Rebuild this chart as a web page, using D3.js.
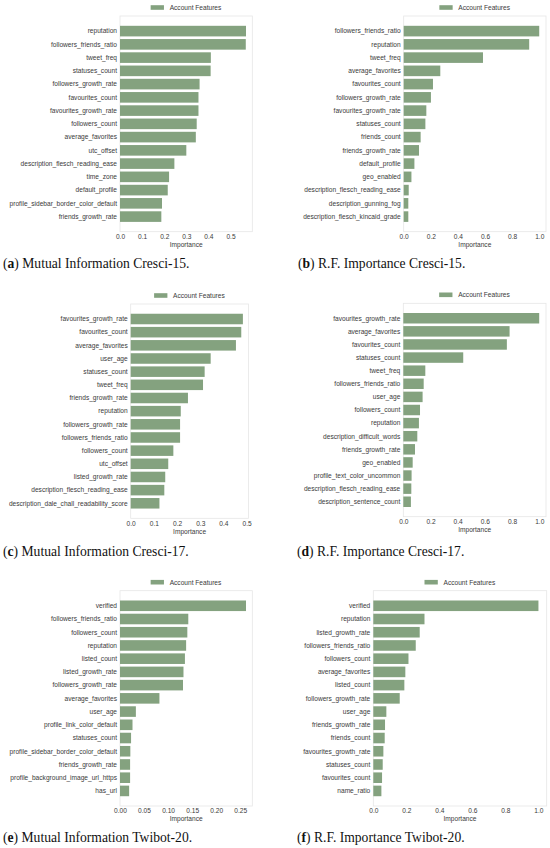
<!DOCTYPE html>
<html><head><meta charset="utf-8">
<script src="https://cdn.jsdelivr.net/npm/d3@7"></script>
<style>
html,body{margin:0;padding:0;background:#fff;}
svg{display:block;}
</style></head>
<body>
<svg id="chart" width="550" height="848"></svg>
<script>
// ---- DATA ----
const legendLabel = "Account Features";
const axisTitle = "Importance";

const featuresA = ["reputation","followers_friends_ratio","tweet_freq","statuses_count","followers_growth_rate","favourites_count","favourites_growth_rate","followers_count","average_favorites","utc_offset","description_flesch_reading_ease","time_zone","default_profile","profile_sidebar_border_color_default","friends_growth_rate"];
const valuesA = [0.570,0.569,0.411,0.410,0.360,0.355,0.355,0.347,0.343,0.300,0.246,0.222,0.216,0.190,0.187];
const ticksA = ["0.0","0.1","0.2","0.3","0.4","0.5"];

const featuresB = ["followers_friends_ratio","reputation","tweet_freq","average_favorites","favourites_count","followers_growth_rate","favourites_growth_rate","statuses_count","friends_count","friends_growth_rate","default_profile","geo_enabled","description_flesch_reading_ease","description_gunning_fog","description_flesch_kincaid_grade"];
const valuesB = [1.0,0.926,0.585,0.270,0.216,0.201,0.167,0.160,0.125,0.113,0.079,0.057,0.037,0.034,0.034];
const ticksB = ["0.0","0.2","0.4","0.6","0.8","1.0"];

const featuresC = ["favourites_growth_rate","favourites_count","average_favorites","user_age","statuses_count","tweet_freq","friends_growth_rate","reputation","followers_growth_rate","followers_friends_ratio","followers_count","utc_offset","listed_growth_rate","description_flesch_reading_ease","description_dale_chall_readability_score"];
const valuesC = [0.484,0.477,0.454,0.345,0.319,0.312,0.247,0.216,0.213,0.213,0.184,0.162,0.149,0.145,0.124];
const ticksC = ["0.0","0.1","0.2","0.3","0.4","0.5"];

const featuresD = ["favourites_growth_rate","average_favorites","favourites_count","statuses_count","tweet_freq","followers_friends_ratio","user_age","followers_count","reputation","description_difficult_words","friends_growth_rate","geo_enabled","profile_text_color_uncommon","description_flesch_reading_ease","description_sentence_count"];
const valuesD = [1.0,0.782,0.762,0.441,0.162,0.150,0.142,0.123,0.115,0.103,0.086,0.069,0.061,0.059,0.056];
const ticksD = ["0.0","0.2","0.4","0.6","0.8","1.0"];

const featuresE = ["verified","followers_friends_ratio","followers_count","reputation","listed_count","listed_growth_rate","followers_growth_rate","average_favorites","user_age","profile_link_color_default","statuses_count","profile_sidebar_border_color_default","friends_growth_rate","profile_background_image_url_https","has_url"];
const valuesE = [0.262,0.142,0.140,0.1375,0.135,0.132,0.131,0.082,0.033,0.026,0.023,0.0215,0.021,0.021,0.019];
const ticksE = ["0.00","0.05","0.10","0.15","0.20","0.25"];

const featuresF = ["verified","reputation","listed_growth_rate","followers_friends_ratio","followers_count","average_favorites","listed_count","followers_growth_rate","user_age","friends_growth_rate","friends_count","favourites_growth_rate","statuses_count","favourites_count","name_ratio"];
const valuesF = [1.0,0.310,0.281,0.257,0.213,0.194,0.188,0.160,0.079,0.071,0.069,0.061,0.057,0.053,0.049];
const ticksF = ["0.0","0.2","0.4","0.6","0.8","1.0"];

const captionLetters = ["a","b","c","d","e","f"];
const captionTexts = ["Mutual Information Cresci-15.","R.F. Importance Cresci-15.","Mutual Information Cresci-17.","R.F. Importance Cresci-17.","Mutual Information Twibot-20.","R.F. Importance Twibot-20."];

// ---- LAYOUT ----
const panels = [
  {f:featuresA, v:valuesA, t:ticksA, L:120,   R:252.3, T:16,    B:231.7, cx:3,   cy:268},
  {f:featuresB, v:valuesB, t:ticksB, L:403.7, R:546,   T:16,    B:231.7, cx:298, cy:268},
  {f:featuresC, v:valuesC, t:ticksC, L:130.7, R:248.5, T:304,   B:518.3, cx:3,   cy:556},
  {f:featuresD, v:valuesD, t:ticksD, L:403.3, R:546,   T:303.3, B:516.7, cx:297, cy:556},
  {f:featuresE, v:valuesE, t:ticksE, L:120,   R:252.3, T:590.7, B:806,   cx:3,   cy:842},
  {f:featuresF, v:valuesF, t:ticksF, L:373.3, R:546.7, T:590.7, B:806,   cx:297, cy:842}
];

const barColor = "#84a27f";
const textColor = "#3a3a3a";
const sans = "'Liberation Sans', Arial, sans-serif";
const serif = "'Liberation Serif', 'DejaVu Serif', serif";
const fs = 6.6;
const svg = d3.select("#chart");

panels.forEach((p, i) => {
  const g = svg.append("g");
  const n = p.f.length;
  const maxV = d3.max(p.v);
  const x = d3.scaleLinear().domain([0, maxV * 1.05]).range([p.L, p.R]);
  const span = (n - 1) + 0.8;
  const pad = 0.05 * span;
  const y = d3.scaleLinear().domain([-0.4 - pad, (n - 1) + 0.4 + pad]).range([p.T, p.B]);

  // frame
  g.append("rect").attr("x", p.L).attr("y", p.T).attr("width", p.R - p.L).attr("height", p.B - p.T)
    .attr("fill", "none").attr("stroke", "#e6e6e6").attr("stroke-width", 0.8);

  // bars
  g.selectAll("rect.bar").data(p.v).join("rect").attr("class", "bar")
    .attr("x", x(0)).attr("y", (d, k) => y(k - 0.4))
    .attr("width", d => x(d) - x(0)).attr("height", (d, k) => y(k + 0.4) - y(k - 0.4))
    .attr("fill", barColor);

  // y labels
  g.selectAll("text.yl").data(p.f).join("text").attr("class", "yl")
    .attr("x", p.L - 3).attr("y", (d, k) => y(k)).attr("dy", "0.35em")
    .attr("text-anchor", "end").attr("font-family", sans).attr("font-size", fs)
    .attr("fill", textColor).text(d => d);

  // x axis
  const tickVals = p.t.map(Number);
  const axis = d3.axisBottom(x).tickValues(tickVals).tickSize(0).tickPadding(0)
    .tickFormat((d, k) => p.t[k]);
  const ax = g.append("g").attr("transform", `translate(0,${p.B})`).call(axis);
  ax.select(".domain").remove();
  ax.selectAll("text").attr("font-family", sans).attr("font-size", fs).attr("fill", textColor)
    .attr("y", 2.6).attr("dy", "0.71em");

  // axis title
  g.append("text").attr("x", (p.L + p.R) / 2).attr("y", p.B + 15.2).attr("text-anchor", "middle")
    .attr("font-family", sans).attr("font-size", fs).attr("fill", textColor).text(axisTitle);

  // legend
  const lc = (p.L + p.R) / 2;
  const ly = p.T - 8.5;
  const lg = g.append("g").attr("transform", `translate(${lc - 35.5},${ly})`);
  lg.append("rect").attr("x", 0).attr("y", -2.3).attr("width", 13.3).attr("height", 4.6).attr("fill", barColor);
  lg.append("text").attr("x", 19).attr("y", 0).attr("dy", "0.35em")
    .attr("font-family", sans).attr("font-size", fs).attr("fill", textColor).text(legendLabel);

  // caption
  const cap = g.append("text").attr("x", p.cx).attr("y", p.cy)
    .attr("font-family", serif).attr("font-size", 13.6).attr("fill", "#111");
  cap.append("tspan").text("(");
  cap.append("tspan").attr("font-weight", "bold").text(captionLetters[i]);
  cap.append("tspan").text(") " + captionTexts[i]);
});
</script>
</body></html>
